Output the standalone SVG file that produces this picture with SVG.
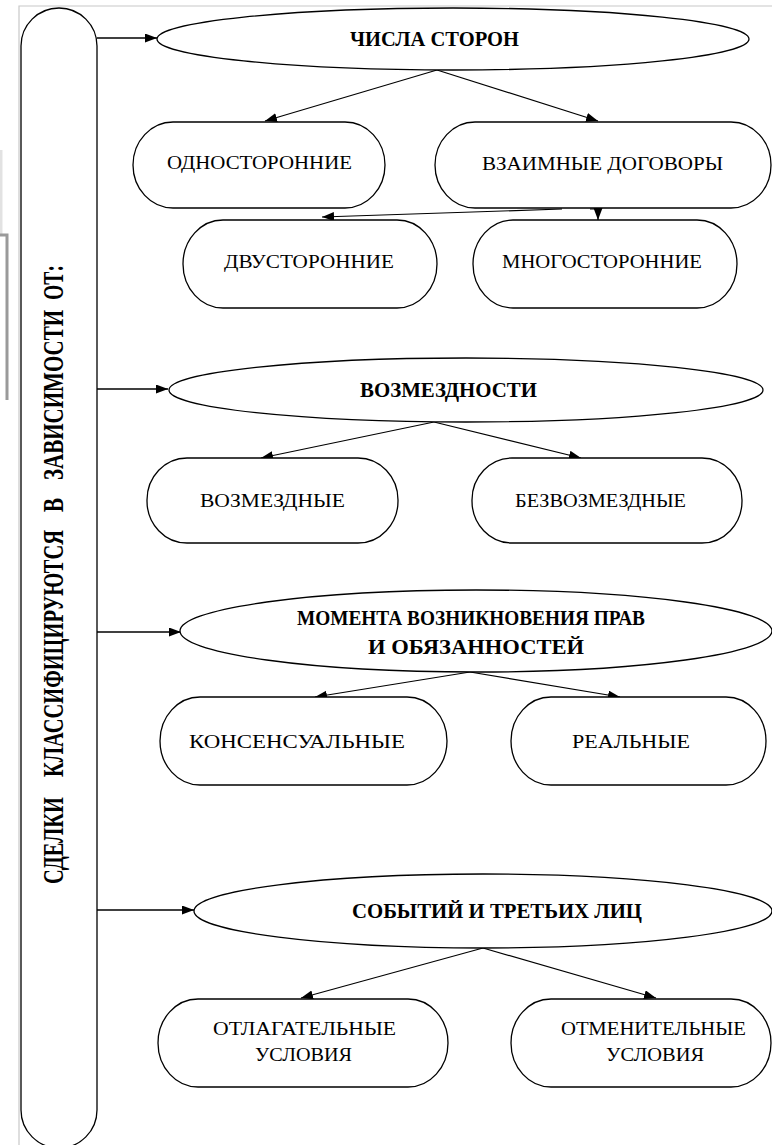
<svg xmlns="http://www.w3.org/2000/svg" width="772" height="1145" viewBox="0 0 772 1145">
<defs>
<marker id="ah" markerUnits="userSpaceOnUse" markerWidth="13" markerHeight="10" refX="12" refY="4.5" orient="auto">
<path d="M0,0 L12,4.5 L0,9 Z" fill="#000"/>
</marker>
<style>
.shape{fill:#fff;stroke:#000;stroke-width:1.3}
.conn{stroke:#000;stroke-width:1.2;fill:none;marker-end:url(#ah)}
.main{stroke-width:1.6}
.b{font-family:"Liberation Serif","Times New Roman",serif;font-weight:bold;font-size:20px;fill:#000}
.r{font-family:"Liberation Serif","Times New Roman",serif;font-size:18px;fill:#000}
</style>
</defs>
<rect x="0" y="0" width="772" height="1145" fill="#fff"/>
<g id="frame" fill="none">
<path d="M19,1145 V6 H772" stroke="#c8c8c8" stroke-width="1.2"/>
<path d="M1,150 V235" stroke="#e2e2e2" stroke-width="3"/>
<path d="M0,235 H7 V400" stroke="#9a9a9a" stroke-width="3"/>
</g>
<g id="main">
<path class="shape" d="M21,46 A38,38 0 0 1 97,46 V1110 A38,38 0 0 1 21,1110 Z"/>
<g transform="translate(63,884) scale(1.5,1) rotate(-90)">
<text class="b" font-family="Liberation Serif, serif" x="0" y="0" font-size="20" textLength="87" lengthAdjust="spacingAndGlyphs">СДЕЛКИ</text>
<text class="b" font-family="Liberation Serif, serif" x="107" y="0" font-size="20" textLength="247" lengthAdjust="spacingAndGlyphs">КЛАССИФИЦИРУЮТСЯ</text>
<text class="b" font-family="Liberation Serif, serif" x="372" y="0" font-size="20" textLength="14" lengthAdjust="spacingAndGlyphs">В</text>
<text class="b" font-family="Liberation Serif, serif" x="404" y="0" font-size="20" textLength="170" lengthAdjust="spacingAndGlyphs">ЗАВИСИМОСТИ</text>
<text class="b" font-family="Liberation Serif, serif" x="584" y="0" font-size="20" textLength="35" lengthAdjust="spacingAndGlyphs">ОТ:</text>
</g>
</g>
<g id="connectors">
<line class="conn main" x1="97" y1="38" x2="157" y2="38"/>
<line class="conn main" x1="97" y1="389" x2="168" y2="389"/>
<line class="conn main" x1="97" y1="632" x2="181" y2="632"/>
<line class="conn main" x1="97" y1="910" x2="194" y2="910"/>
<line class="conn" x1="437" y1="70" x2="265" y2="121"/>
<line class="conn" x1="437" y1="70" x2="598" y2="121"/>
<line class="conn" x1="562" y1="209" x2="322" y2="217"/>
<path class="conn" d="M590,209 H598 V220"/>
<line class="conn" x1="434" y1="422" x2="261" y2="458"/>
<line class="conn" x1="434" y1="422" x2="581" y2="458"/>
<line class="conn" x1="470" y1="672" x2="315" y2="697"/>
<line class="conn" x1="470" y1="672" x2="620" y2="697"/>
<line class="conn" x1="483" y1="948" x2="301" y2="998"/>
<line class="conn" x1="483" y1="948" x2="656" y2="998"/>
</g>
<g id="e1"><ellipse class="shape" cx="453" cy="39" rx="296" ry="31"/><text class="b" font-family="Liberation Serif, serif" x="350" y="46" textLength="169" lengthAdjust="spacingAndGlyphs">ЧИСЛА СТОРОН</text></g>
<g id="b1"><rect class="shape" x="133" y="122" width="252" height="86" rx="40" ry="43"/><text class="r" font-family="Liberation Serif, serif" x="167" y="169" textLength="185" lengthAdjust="spacingAndGlyphs">ОДНОСТОРОННИЕ</text></g>
<g id="b2"><rect class="shape" x="435" y="122" width="336" height="86" rx="40" ry="43"/><text class="r" font-family="Liberation Serif, serif" x="482" y="170" textLength="241" lengthAdjust="spacingAndGlyphs">ВЗАИМНЫЕ ДОГОВОРЫ</text></g>
<g id="b3"><rect class="shape" x="183" y="220" width="254" height="88" rx="40" ry="44"/><text class="r" font-family="Liberation Serif, serif" x="224" y="268" textLength="170" lengthAdjust="spacingAndGlyphs">ДВУСТОРОННИЕ</text></g>
<g id="b4"><rect class="shape" x="473" y="220" width="264" height="88" rx="40" ry="44"/><text class="r" font-family="Liberation Serif, serif" x="502" y="268" textLength="200" lengthAdjust="spacingAndGlyphs">МНОГОСТОРОННИЕ</text></g>
<g id="e2"><ellipse class="shape" cx="466" cy="390" rx="297" ry="32"/><text class="b" font-family="Liberation Serif, serif" x="360" y="397" textLength="177" lengthAdjust="spacingAndGlyphs">ВОЗМЕЗДНОСТИ</text></g>
<g id="b5"><rect class="shape" x="147" y="458" width="251" height="85" rx="40" ry="42"/><text class="r" font-family="Liberation Serif, serif" x="200" y="507" textLength="145" lengthAdjust="spacingAndGlyphs">ВОЗМЕЗДНЫЕ</text></g>
<g id="b6"><rect class="shape" x="472" y="458" width="270" height="85" rx="40" ry="42"/><text class="r" font-family="Liberation Serif, serif" x="515" y="507" textLength="171" lengthAdjust="spacingAndGlyphs">БЕЗВОЗМЕЗДНЫЕ</text></g>
<g id="e3"><ellipse class="shape" cx="476" cy="631" rx="296" ry="41"/><text class="b" font-family="Liberation Serif, serif" x="297" y="625" textLength="348" lengthAdjust="spacingAndGlyphs">МОМЕНТА ВОЗНИКНОВЕНИЯ ПРАВ</text><text class="b" font-family="Liberation Serif, serif" x="368" y="654" textLength="216" lengthAdjust="spacingAndGlyphs">И ОБЯЗАННОСТЕЙ</text></g>
<g id="b7"><rect class="shape" x="160" y="697" width="287" height="88" rx="40" ry="44"/><text class="r" font-family="Liberation Serif, serif" x="189" y="748" textLength="216" lengthAdjust="spacingAndGlyphs">КОНСЕНСУАЛЬНЫЕ</text></g>
<g id="b8"><rect class="shape" x="511" y="697" width="255" height="88" rx="40" ry="44"/><text class="r" font-family="Liberation Serif, serif" x="572" y="748" textLength="118" lengthAdjust="spacingAndGlyphs">РЕАЛЬНЫЕ</text></g>
<g id="e4"><ellipse class="shape" cx="483" cy="911" rx="289" ry="37"/><text class="b" font-family="Liberation Serif, serif" x="352" y="918" textLength="290" lengthAdjust="spacingAndGlyphs">СОБЫТИЙ И ТРЕТЬИХ ЛИЦ</text></g>
<g id="b9"><rect class="shape" x="158" y="999" width="290" height="88" rx="40" ry="44"/><text class="r" font-family="Liberation Serif, serif" x="213" y="1035" textLength="183" lengthAdjust="spacingAndGlyphs">ОТЛАГАТЕЛЬНЫЕ</text><text class="r" font-family="Liberation Serif, serif" x="255" y="1061" textLength="97" lengthAdjust="spacingAndGlyphs">УСЛОВИЯ</text></g>
<g id="b10"><rect class="shape" x="511" y="999" width="260" height="88" rx="40" ry="44"/><text class="r" font-family="Liberation Serif, serif" x="561" y="1035" textLength="185" lengthAdjust="spacingAndGlyphs">ОТМЕНИТЕЛЬНЫЕ</text><text class="r" font-family="Liberation Serif, serif" x="606" y="1061" textLength="98" lengthAdjust="spacingAndGlyphs">УСЛОВИЯ</text></g>
</svg>
